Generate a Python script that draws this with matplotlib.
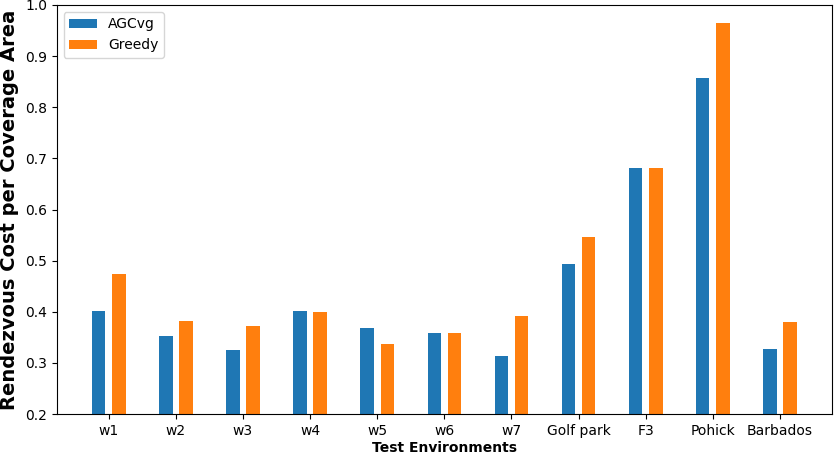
import numpy as np
import matplotlib
matplotlib.use("Agg")
import matplotlib.pyplot as plt

# Data
environments = ["w1", "w2", "w3", "w4", "w5", "w6", "w7",
                "Golf park", "F3", "Pohick", "Barbados"]
agcvg = [0.401, 0.353, 0.325, 0.401, 0.368, 0.358, 0.313,
         0.493, 0.681, 0.857, 0.327]
greedy = [0.474, 0.382, 0.372, 0.399, 0.337, 0.358, 0.392,
          0.546, 0.681, 0.965, 0.380]

fig, ax = plt.subplots(figsize=(8.34, 4.54), dpi=100)
fig.subplots_adjust(left=0.068, right=0.9976, top=0.989, bottom=0.088)

x = np.arange(len(environments))
width = 0.2
ax.bar(x - 0.15, agcvg, width, color="#1f77b4", label="AGCvg")
ax.bar(x + 0.15, greedy, width, color="#ff7f0e", label="Greedy")

ax.set_xticks(x)
ax.set_xticklabels(environments)
ax.set_ylim(0.2, 1.0)
ax.set_xlabel("Test Environments", fontweight="bold", fontsize=10, labelpad=2)
ax.set_ylabel("Rendezvous Cost per Coverage Area", fontweight="bold", fontsize=14)
ax.legend(loc="upper left")

plt.savefig("out.png", dpi=100)
